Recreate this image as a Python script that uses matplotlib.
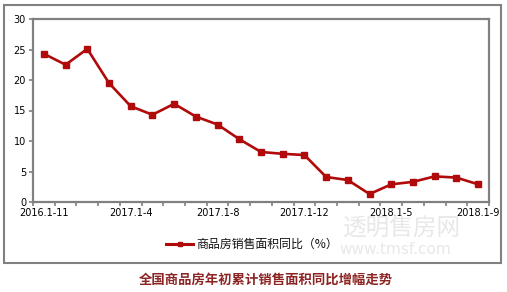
import matplotlib
matplotlib.use("Agg")
import matplotlib.pyplot as plt
from matplotlib.patches import Rectangle
from matplotlib.lines import Line2D

plt.rcParams['font.family'] = ['DejaVu Sans', 'Noto Sans CJK SC']

# data
periods = ['2016.1-11', '2016.1-12', '2017.1-2', '2017.1-3', '2017.1-4', '2017.1-5',
           '2017.1-6', '2017.1-7', '2017.1-8', '2017.1-9', '2017.1-10', '2017.1-11',
           '2017.1-12', '2018.1-2', '2018.1-3', '2018.1-4', '2018.1-5', '2018.1-6',
           '2018.1-7', '2018.1-8', '2018.1-9']
growth = [24.3, 22.5, 25.1, 19.5, 15.7, 14.3, 16.1, 14.0, 12.7, 10.3, 8.2, 7.9,
          7.7, 4.1, 3.6, 1.3, 2.9, 3.3, 4.2, 4.0, 2.9]
y_ticks = [0, 5, 10, 15, 20, 25, 30]

series_name = '商品房销售面积同比（%）'
title = '全国商品房年初累计销售面积同比增幅走势'

W, H = 507, 292
GRAY = '#808080'
RED = '#b00a0a'

fig = plt.figure(figsize=(W / 100, H / 100), dpi=100)

# outer frame
fig.patches.append(Rectangle((4 / W, (H - 263) / H), 497 / W, 258 / H,
                             transform=fig.transFigure, fill=False,
                             edgecolor=GRAY, linewidth=1.5))

ax = fig.add_axes([33 / W, (H - 202) / H, (489 - 33) / W, (202 - 19) / H])
x = list(range(len(periods)))
ax.plot(x, growth, color=RED, linewidth=1.9, marker='s', markersize=4.2,
        markerfacecolor=RED, markeredgecolor=RED)

ax.set_xlim(-0.5, len(periods) - 0.5)
ax.set_ylim(0, 30)
ax.set_yticks(y_ticks)
ax.set_yticklabels([str(v) for v in y_ticks], fontsize=7)

# ticks on category boundaries, labels every fourth category
ax.set_xticks([i - 0.5 for i in range(len(periods) + 1)])
ax.set_xticklabels([])
ax.set_xticks(x[::4], minor=True)
ax.set_xticklabels(periods[::4], minor=True, fontsize=7)
ax.tick_params(axis='x', which='minor', length=0, pad=4)
ax.tick_params(axis='x', which='major', length=3, width=1.2, color=GRAY)
ax.tick_params(axis='y', length=3, width=1.2, color=GRAY, pad=2)

for s in ax.spines.values():
    s.set_color(GRAY)
    s.set_linewidth(1.6)

# watermark (kept just below the tick labels)
fig.text(402 / W, 1 - 229 / H, '透明售房网', fontsize=17, color='#e8e8e8',
         ha='center', va='center', family=['Noto Sans CJK SC'], zorder=0)
fig.text(395 / W, 1 - 250 / H, 'www.tmsf.com', fontsize=11, color='#e8e8e8',
         ha='center', va='center', zorder=0)

# legend
fig.add_artist(Line2D([166 / W, 193 / W], [1 - 244 / H, 1 - 244 / H],
                      transform=fig.transFigure, color=RED, linewidth=2.2))
fig.add_artist(Line2D([179.5 / W], [1 - 244 / H], transform=fig.transFigure,
                      color=RED, marker='s', markersize=3.5, linestyle='none'))
fig.text(196 / W, 1 - 244 / H, series_name, fontsize=8.6, color='#111111',
         ha='left', va='center', family=['Noto Sans CJK SC', 'DejaVu Sans'])

fig.text(266 / W, 1 - 280 / H, title, fontsize=9.6, color='#8c2424',
         fontweight='bold', ha='center', va='center',
         family=['Noto Sans CJK SC', 'DejaVu Sans'])

fig.savefig('out.png', dpi=100)
